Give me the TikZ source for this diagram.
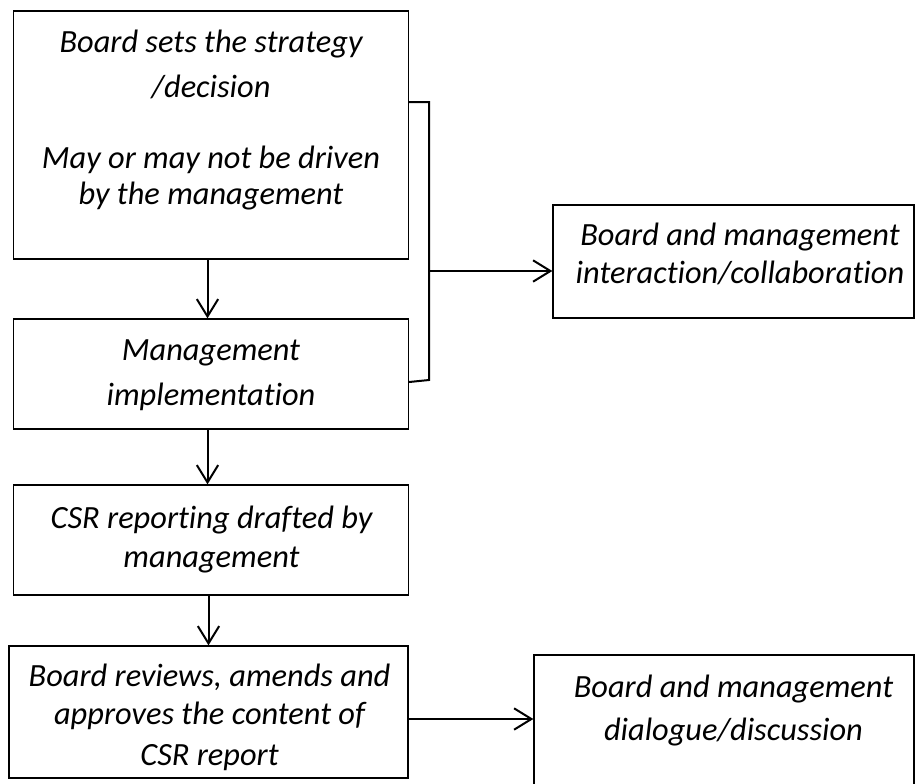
\documentclass[tikz,border=0pt]{standalone}
\usepackage{fontspec}
\setmainfont{Carlito}[RawFeature=-liga]
\usetikzlibrary{arrows.meta,fit}

\tikzset{
  box/.style={draw=black, line width=1pt, inner sep=0pt, fill=none},
  txt/.style={inner sep=0pt, anchor=base, font=\fontsize{24.3}{30}\selectfont\itshape},
  arr/.style={draw=black, line width=1.5pt, -{Straight Barb[length=13pt,width=16pt,line width=1.5pt]}},
  link/.style={draw=black, line width=1.5pt},
}

\begin{document}
\begin{tikzpicture}[x=0.75pt, y=-0.75pt]
\useasboundingbox (0,0) rectangle (915,783);

% left column of process boxes
\node[box, fit={(13.5,11) (408.5,259)}] (b1) {};
\node[box, fit={(13.5,319) (408.5,429)}] (b2) {};
\node[box, fit={(13.5,485) (408.5,595)}] (b3) {};
\node[box, fit={(9,646) (408,778)}] (b4) {};

% right column outcome boxes
\node[box, fit={(553,205) (914,318)}] (r1) {};
\node[box, fit={(534,655) (914,795)}] (r2) {};

% box texts
\node[txt] (t1a) at (211,52) {Board sets the strategy};
\node[txt] (t1b) at (211,97) {/decision};
\node[txt] (t1c) at (211,168) {May or may not be driven};
\node[txt] (t1d) at (211,204) {by the management};

\node[txt] (t2a) at (211,360.5) {Management};
\node[txt] (t2b) at (211,405.5) {implementation};

\node[txt] (t3a) at (211.5,528) {CSR reporting drafted by};
\node[txt] (t3b) at (211.5,567) {management};

\node[txt] (t4a) at (209.5,686.5) {Board reviews, amends and};
\node[txt] (t4b) at (209.5,724) {approves the content of};
\node[txt] (t4c) at (209.5,765.5) {CSR report};

\node[txt] (tr1a) at (740,245) {Board and management};
\node[txt] (tr1b) at (740,283) {interaction/collaboration};

\node[txt] (tr2a) at (733.5,697) {Board and management};
\node[txt] (tr2b) at (733.5,740) {dialogue/discussion};

% downward flow
\draw[arr] (b1.south -| 207.5,0) -- (b2.north -| 207.5,0);
\draw[arr] (b2.south -| 207.5,0) -- (b3.north -| 207.5,0);
\draw[arr] (b3.south -| 208.5,0) -- (b4.north -| 208.5,0);

% bracket joining the first two boxes
\coordinate (brT) at (429,102);
\coordinate (brB) at (429,380);
\coordinate (brM) at (429,271);
\draw[link, line join=miter] (b1.east |- brT) -- (brT) -- (brB) -- (b2.east |- 0,382);
\draw[arr] (brM) -- (r1.west |- brM);

% review to dialogue
\coordinate (revM) at (408,719);
\draw[arr] (b4.east |- revM) -- (r2.west |- revM);
\end{tikzpicture}
\end{document}
